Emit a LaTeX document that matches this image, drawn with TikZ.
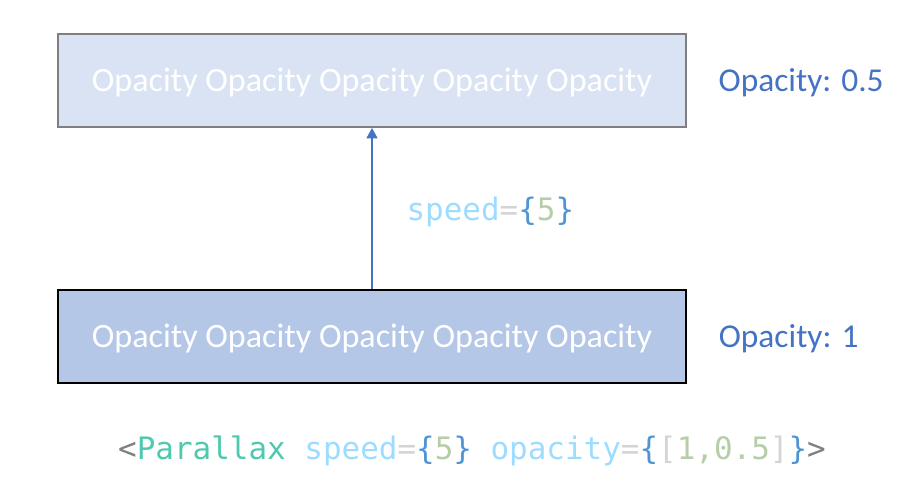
\documentclass[tikz,border=0pt]{standalone}
\usepackage{fontspec}
\setmainfont{Carlito}
\newfontfamily\codefont{DejaVu Sans Mono}
\usetikzlibrary{arrows.meta,positioning}
\definecolor{boxlight}{HTML}{DAE3F3}
\definecolor{boxdark}{HTML}{B4C7E7}
\definecolor{boxgray}{HTML}{7F7F7F}
\definecolor{officeblue}{HTML}{4472C4}
\definecolor{ctag}{HTML}{808080}
\definecolor{ctype}{HTML}{4EC9B0}
\definecolor{cattr}{HTML}{9CDCFE}
\definecolor{cop}{HTML}{D4D4D4}
\definecolor{cbrace}{HTML}{4F94D4}
\definecolor{cnum}{HTML}{B5CEA8}

\begin{document}
\begin{tikzpicture}[
		layer/.style={minimum width=62.8mm,minimum height=9.3mm,inner sep=0pt,text height=7.4pt,text depth=1pt,text=white,font=\fontsize{9.7}{11}\selectfont},
		lab/.style={inner sep=0pt,text height=7.4pt,text depth=1pt,text=officeblue,font=\fontsize{9.5}{11}\selectfont},
		code/.style={inner sep=0pt,font=\codefont\fontsize{8.8}{10}\selectfont},
		arr/.style={-{Triangle[width=3.2pt,length=3pt]},draw=officeblue,line width=0.3pt}
		]
		
		\useasboundingbox (0,0) rectangle (9.13,5.00);
		
		% --- Layers
		\node[layer,draw=boxgray,line width=0.55pt,fill=boxlight] (top) at (3.72,4.195) {Opacity Opacity Opacity Opacity Opacity};
		\node[layer,draw=black,line width=0.65pt,fill=boxdark,below=16.1mm of top] (bottom) {Opacity Opacity Opacity Opacity Opacity};
		
		\node[lab,right=3.1mm of top] (optop) {Opacity: 0.5};
		\node[lab,right=3.1mm of bottom] (opbottom) {Opacity: 1};
		
		% --- Movement between layers
		\draw[arr] (bottom) -- node[code,right=3.4mm,yshift=-0.35mm] (speed) {\textcolor{cattr}{speed}\textcolor{cop}{=}\textcolor{cbrace}{\{}\textcolor{cnum}{5}\textcolor{cbrace}{\}}} (top);
		
		% --- Component call
		\node[code] (call) at (4.72,0.49) {\textcolor{ctag}{<}\textcolor{ctype}{Parallax} \textcolor{cattr}{speed}\textcolor{cop}{=}\textcolor{cbrace}{\{}\textcolor{cnum}{5}\textcolor{cbrace}{\}} \textcolor{cattr}{opacity}\textcolor{cop}{=}\textcolor{cbrace}{\{}\textcolor{cop}{[}\textcolor{cnum}{1,0.5}\textcolor{cop}{]}\textcolor{cbrace}{\}}\textcolor{ctag}{>}};
		
	\end{tikzpicture}
\end{document}
